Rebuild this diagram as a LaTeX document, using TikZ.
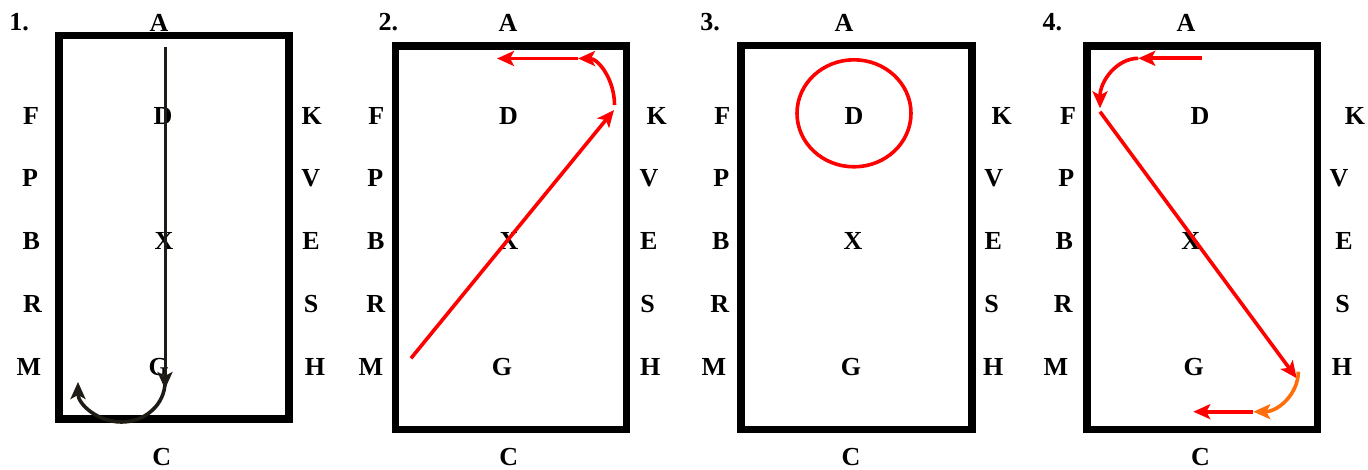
\documentclass[tikz,border=0pt]{standalone}
\usepackage{fontspec}
\setmainfont{Liberation Serif}
\usetikzlibrary{arrows.meta}
\definecolor{runred}{RGB}{255,0,0}
\definecolor{runorange}{RGB}{255,110,10}
\definecolor{rundark}{RGB}{30,28,20}

\begin{document}
\begin{tikzpicture}[x=1pt, y=-1pt,
    letter/.style={font=\bfseries\fontsize{26}{26}\selectfont, inner sep=0pt},
    arena/.style={line width=7.5pt},
    run/.style={-{Stealth[length=17pt,width=15pt,inset=4pt]}, line width=3.6pt}]
  \useasboundingbox (0,0) rectangle (1368,470);

  % the four arenas
  \draw[arena] (58.8,35.5) rectangle (289,419);
  \draw[arena] (395.5,46) rectangle (626.3,429.7);
  \draw[arena] (741,45.5) rectangle (972,429.7);
  \draw[arena] (1087,46) rectangle (1317.5,429.7);

  % letters, panel by panel
  \node[letter] (n1) at (19,21.7) {1.};
  \foreach \t/\x/\y in {A/159/22.5, F/31/115.7, D/163/115.7, K/311.7/115.7,
      P/30/178.3, V/310.7/178.3, B/31.3/240.8, X/164/240.8, E/311/240.8,
      R/32.5/303.7, S/311/303.7, M/28.8/366.7, G/158.7/366.7, H/315/366.7,
      C/161.7/457.5}
    \node[letter] (\t1) at (\x,\y) {\t};

  \node[letter] (n2) at (388.3,21.7) {2.};
  \foreach \t/\x/\y in {A/508/22.5, F/376.3/115.7, D/508.5/115.7, K/656.7/115.7,
      P/375.3/178.3, V/649/178.3, B/375.7/240.8, X/509/240.8, E/648.7/240.8,
      R/375.8/303.7, S/647.7/303.7, M/371/366.7, G/502/366.7, H/650.3/366.7,
      C/508.8/457.5}
    \node[letter] (\t2) at (\x,\y) {\t};

  \node[letter] (n3) at (710,21.7) {3.};
  \foreach \t/\x/\y in {A/844/22.5, F/722.2/115.7, D/854/115.7, K/1001.7/115.7,
      P/721.3/178.3, V/993.7/178.3, B/720.7/240.8, X/853/240.8, E/993.3/240.8,
      R/719.8/303.7, S/991.7/303.7, M/714/366.7, G/851/366.7, H/993.3/366.7,
      C/851/457.5}
    \node[letter] (\t3) at (\x,\y) {\t};

  \node[letter] (n4) at (1052.3,21.7) {4.};
  \foreach \t/\x/\y in {A/1186/22.5, F/1068/115.7, D/1200/115.7, K/1355/115.7,
      P/1066.2/178.3, V/1339/178.3, B/1064.3/240.8, X/1190.7/240.8, E/1344/240.8,
      R/1063.2/303.7, S/1342.5/303.7, M/1056/366.7, G/1193.7/366.7, H/1342/366.7,
      C/1200.5/457.5}
    \node[letter] (\t4) at (\x,\y) {\t};

  % 1. centre line and turn
  \coordinate (top1) at (165,47);
  \coordinate (low1) at (165,389);
  \coordinate (turn1) at (165,382);
  \draw[run, rundark, line width=3pt] (top1) -- (low1);
  \draw[run, rundark] (turn1) arc[start angle=0, end angle=180, x radius=43.5, y radius=40];

  % 2. diagonal and turn
  \coordinate (start2) at (411,358.3);
  \coordinate (corner2) at (614,110);
  \coordinate (turn2) at (614.5,105);
  \coordinate (bend2) at (578,58.5);
  \coordinate (end2) at (497,58.5);
  \draw[run, runred] (start2) -- (corner2);
  \draw[run, runred] (turn2) arc[start angle=0, end angle=-90, x radius=36.5, y radius=46.5];
  \draw[run, runred] (bend2) -- (end2);

  % 3. circle round D
  \coordinate (ring3) at (854,113.3);
  \draw[runred, line width=3.6pt] (ring3) ellipse[x radius=57, y radius=53.5];

  % 4. change of rein
  \coordinate (start4) at (1201.7,58.3);
  \coordinate (bend4) at (1138.3,58.3);
  \coordinate (corner4) at (1100,111.7);
  \coordinate (low4) at (1296.7,378.3);
  \coordinate (turn4) at (1298.3,371.7);
  \coordinate (bend4b) at (1252.7,411.7);
  \coordinate (end4) at (1193.3,411.7);
  \draw[run, runred] (start4) -- (bend4);
  \draw[run, runred] (bend4) arc[start angle=-90, end angle=-180, x radius=38.3, y radius=50];
  \draw[run, runred] (corner4) -- (low4);
  \draw[run, runorange] (turn4) arc[start angle=0, end angle=90, x radius=45, y radius=40];
  \draw[run, runred] (bend4b) -- (end4);
\end{tikzpicture}
\end{document}
